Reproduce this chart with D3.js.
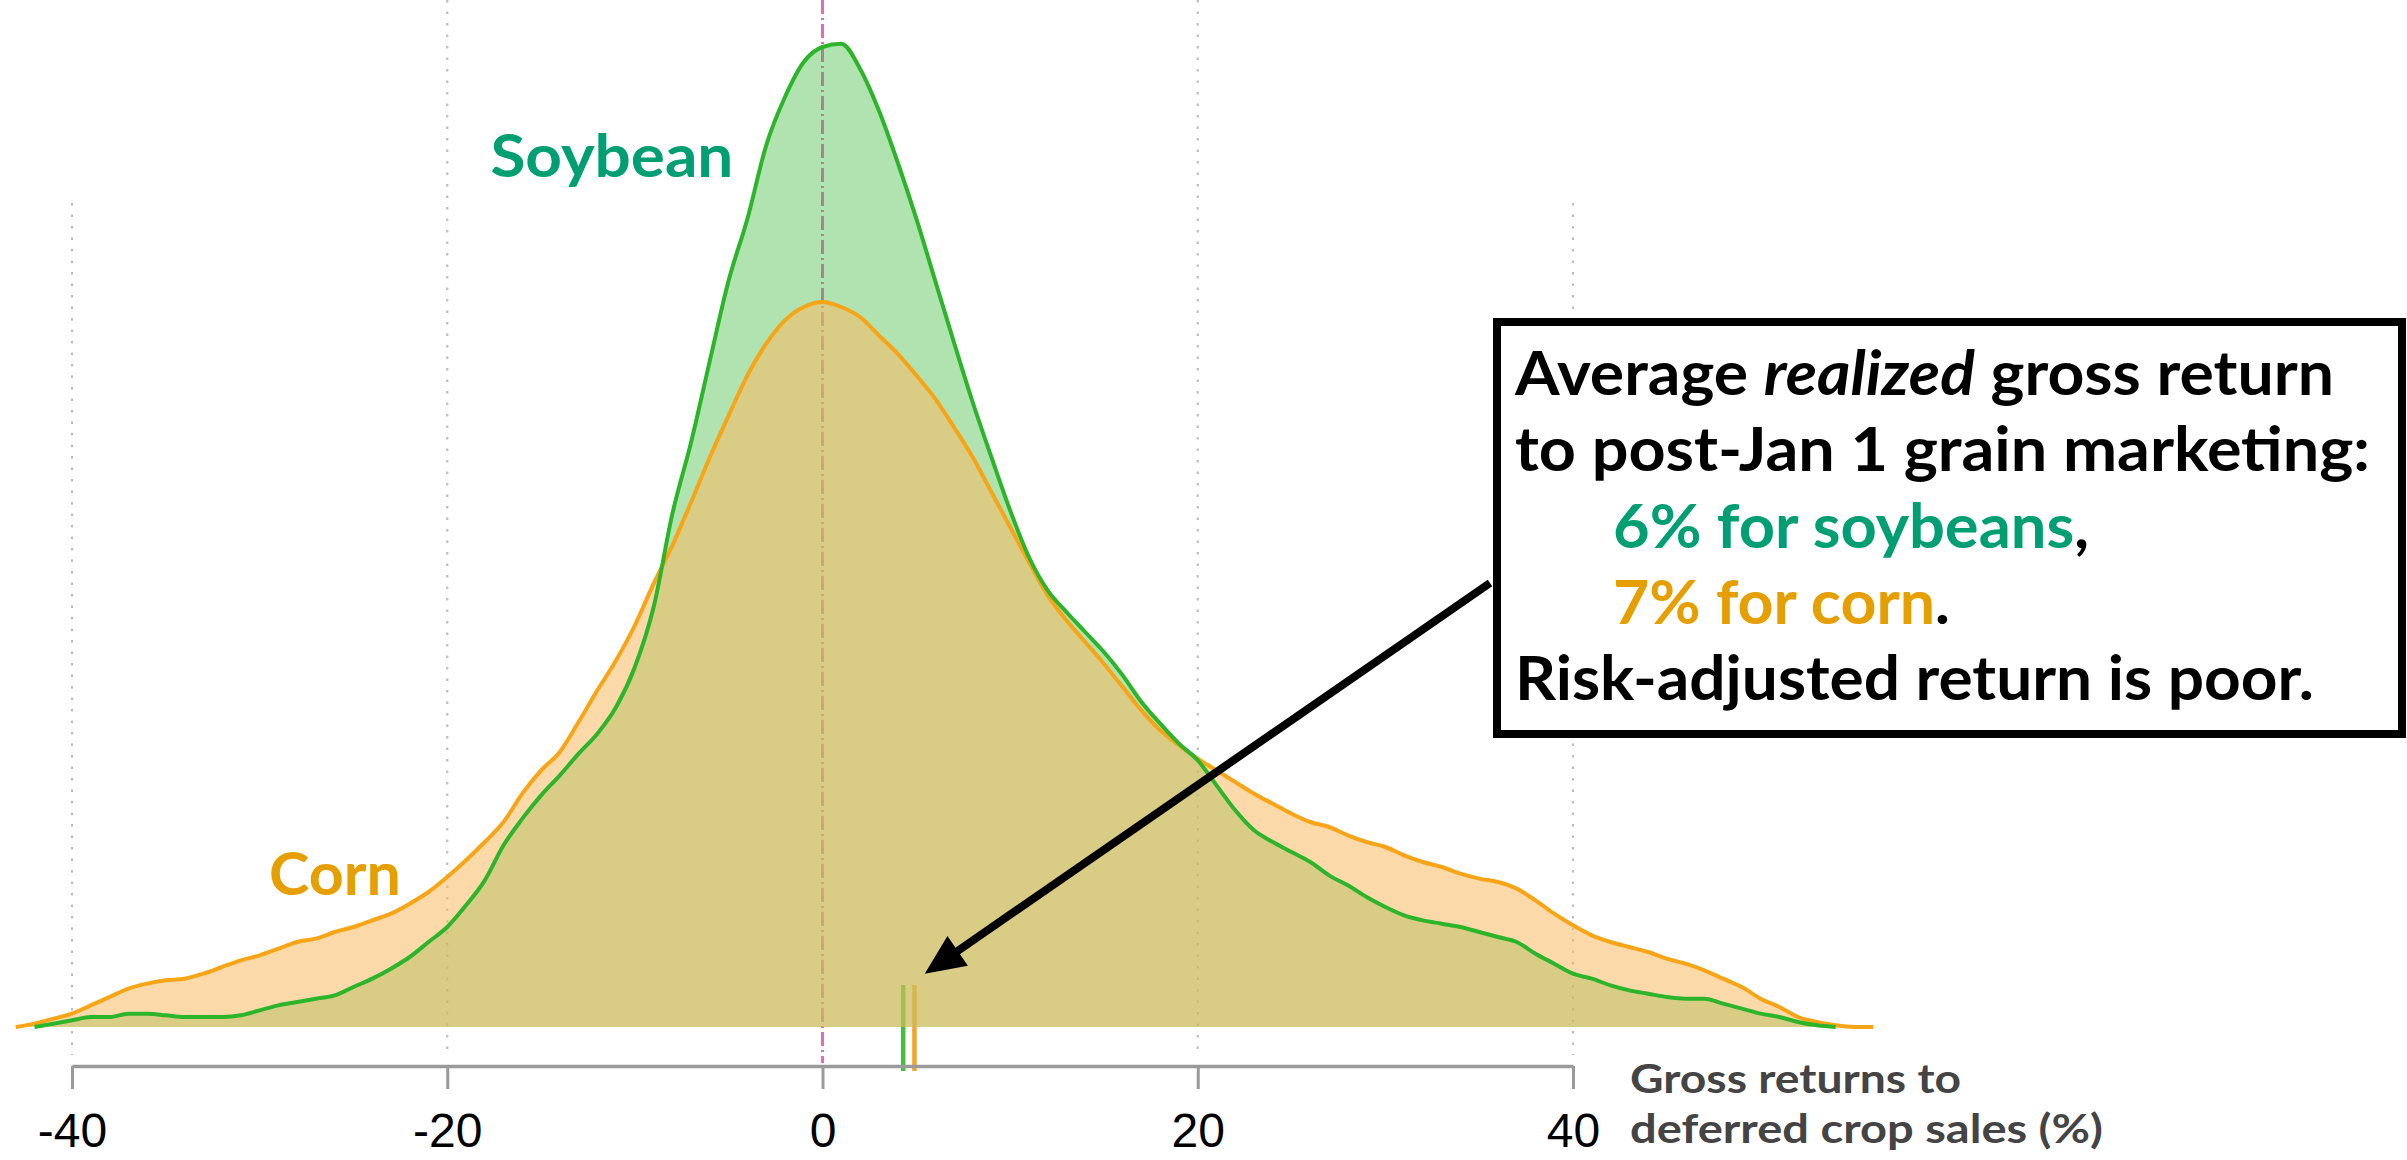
<!DOCTYPE html>
<html><head><meta charset="utf-8">
<script src="https://cdn.jsdelivr.net/npm/d3@7"></script>
<style>body{margin:0;background:#fff}svg{display:block}</style>
</head><body>
<svg id="chart" width="2407" height="1160"></svg>
<script>
// ---------------- data ----------------
const returnPct = [-44,-43,-42,-41,-40,-39,-38,-37,-36,-35,-34,-33,-32,-31,-30,-29,-28,-27,-26,-25,-24,-23,-22,-21,-20,-19,-18,-17,-16,-15,-14,-13,-12,-11,-10,-9,-8,-7,-6,-5,-4,-3,-2,-1,
  0,1,2,3,4,5,6,7,8,9,10,11,12,13,14,15,16,17,18,19,20,21,22,23,24,25,26,27,28,29,30,31,32,33,34,35,36,37,38,39,40,41,42,43,44,45,46,47,48,49,50,51,52,53,54,55,56,57];
const soybeanDensity = [null,null,0.0000,0.0002,0.0004,0.0006,0.0006,0.0008,0.0008,0.0007,0.0006,0.0006,0.0006,0.0007,0.0010,0.0013,0.0015,0.0017,0.0019,0.0024,0.0029,0.0035,0.0042,0.0051,0.0060,0.0073,0.0088,0.0109,0.0125,0.0139,0.0151,0.0164,0.0176,0.0192,0.0216,0.0252,0.0308,0.0351,0.0400,0.0448,0.0485,0.0529,0.0558,0.0579,
  0.0588,0.0590,0.0575,0.0550,0.0519,0.0485,0.0448,0.0411,0.0375,0.0342,0.0310,0.0282,0.0262,0.0249,0.0237,0.0225,0.0211,0.0195,0.0182,0.0170,0.0160,0.0145,0.0130,0.0118,0.0111,0.0105,0.0099,0.0091,0.0085,0.0078,0.0072,0.0067,0.0064,0.0062,0.0060,0.0057,0.0054,0.0051,0.0044,0.0038,0.0032,0.0029,0.0025,0.0022,0.0020,0.0018,0.0017,0.0017,0.0014,0.0011,0.0008,0.0006,0.0003,0.0001,0.0000,null,null,null];
const cornDensity = [null,0.0000,0.0002,0.0005,0.0008,0.0013,0.0018,0.0023,0.0026,0.0028,0.0029,0.0032,0.0036,0.0040,0.0043,0.0047,0.0051,0.0053,0.0057,0.0060,0.0064,0.0068,0.0074,0.0081,0.0090,0.0100,0.0111,0.0123,0.0140,0.0154,0.0165,0.0183,0.0202,0.0220,0.0241,0.0266,0.0289,0.0315,0.0342,0.0367,0.0391,0.0410,0.0424,0.0432,
  0.0435,0.0432,0.0426,0.0415,0.0404,0.0391,0.0377,0.0360,0.0342,0.0321,0.0300,0.0279,0.0259,0.0244,0.0231,0.0218,0.0204,0.0190,0.0178,0.0169,0.0161,0.0154,0.0147,0.0140,0.0134,0.0128,0.0123,0.0120,0.0115,0.0111,0.0108,0.0103,0.0099,0.0096,0.0092,0.0089,0.0087,0.0083,0.0076,0.0068,0.0061,0.0055,0.0051,0.0048,0.0045,0.0041,0.0038,0.0034,0.0029,0.0024,0.0017,0.0012,0.0006,0.0003,0.0001,0.0000,0.0000,null];
const crops = ["Soybean", "Corn"];
const meanReturn = [4.3, 4.9];          // realized mean markers (soybean, corn)
const xTicks = [-40, -20, 0, 20, 40];
const gridValues = [-40, -20, 20, 40];
const axisTitle = ["Gross returns to", "deferred crop sales (%)"];
const noteLines = [
  [{t:"Average ", c:"#000"}, {t:"realized", c:"#000", i:true}, {t:" gross return", c:"#000"}],
  [{t:"to post-Jan 1 grain marketing:", c:"#000"}],
  [{t:"6% for soybeans", c:"#009E73"}, {t:",", c:"#000"}],
  [{t:"7% for corn", c:"#E69F00"}, {t:".", c:"#000"}],
  [{t:"Risk-adjusted return is poor.", c:"#000"}]
];

// ---------------- chart ----------------
const svg = d3.select("#chart");
const x = d3.scaleLinear().domain([-40, 40]).range([72, 1573]);
const y = d3.scaleLinear().domain([0, 0.06]).range([1027, 27]);
const axisY = 1066;

const rows = returnPct.map((v, i) => ({v, s: soybeanDensity[i], c: cornDensity[i]}));

// grid lines
svg.append("g").selectAll("line").data(gridValues).join("line")
  .attr("x1", d => x(d)).attr("x2", d => x(d))
  .attr("y1", d => Math.abs(d) === 40 ? 203 : 0).attr("y2", 1055)
  .attr("stroke", "#bdbdbd").attr("stroke-width", 2.2).attr("stroke-dasharray", "2.5,9");

// zero line
svg.append("line").attr("x1", x(0)).attr("x2", x(0)).attr("y1", 0).attr("y2", axisY - 3)
  .attr("stroke", "#e36ac0").attr("stroke-width", 3).attr("stroke-dasharray", "14,4,2,4");

// mean markers
const markColors = ["#45c03a", "#f0a52a"];
svg.append("g").selectAll("line").data(meanReturn).join("line")
  .attr("x1", d => x(d)).attr("x2", d => x(d))
  .attr("y1", y(0.00252)).attr("y2", axisY + 5)
  .attr("stroke", (d, i) => markColors[i]).attr("stroke-width", 4.5);

// density areas
const curve = d3.curveMonotoneX;
const areaS = d3.area().defined(d => d.s !== null).x(d => x(d.v)).y0(y(0)).y1(d => y(d.s)).curve(curve);
const areaC = d3.area().defined(d => d.c !== null).x(d => x(d.v)).y0(y(0)).y1(d => y(d.c)).curve(curve);
svg.append("path").datum(rows).attr("d", areaS).attr("fill", "rgb(58,185,58)").attr("fill-opacity", 0.4);
svg.append("path").datum(rows).attr("d", areaC).attr("fill", "rgb(250,187,101)").attr("fill-opacity", 0.56);

const lineS = d3.line().defined(d => d.s !== null).x(d => x(d.v)).y(d => y(d.s)).curve(curve);
const lineC = d3.line().defined(d => d.c !== null).x(d => x(d.v)).y(d => y(d.c)).curve(curve);
svg.append("path").datum(rows).attr("d", lineC).attr("fill", "none").attr("stroke", "#f7a516").attr("stroke-width", 4).attr("stroke-linejoin", "round");
svg.append("path").datum(rows).attr("d", lineS).attr("fill", "none").attr("stroke", "#2cb52a").attr("stroke-width", 4).attr("stroke-linejoin", "round");

// x axis
const ax = svg.append("g").attr("transform", `translate(0,${axisY})`)
  .call(d3.axisBottom(x).tickValues(xTicks).tickFormat(d3.format("d")).tickSize(23).tickSizeOuter(0).tickPadding(24));
ax.select(".domain").attr("stroke", "#9a9a9a").attr("stroke-width", 3.5);
ax.selectAll(".tick line").attr("stroke", "#9a9a9a").attr("stroke-width", 3);
ax.selectAll(".tick text").attr("fill", "#000")
  .style("font-family", "'Liberation Sans', Arial, sans-serif").style("font-size", "48px")
  .text(d => d < 0 ? "-" + Math.abs(d) : d);

// axis title (two lines)
const atWidths = [331, 473];
const atY = [1093, 1143];
axisTitle.forEach((t, i) => {
  svg.append("text").attr("x", 1630).attr("y", atY[i]).text(t).attr("fill", "#444")
    .style("font-family", "Lato, 'Open Sans', sans-serif").style("font-weight", 700).style("font-size", "40px")
    .attr("textLength", atWidths[i]).attr("lengthAdjust", "spacingAndGlyphs");
});

// crop labels
const labelColors = ["#009E73", "#E69F00"];
const labelPos = [{v: -17.7, d: 0.0510, w: 243}, {v: -29.5, d: 0.0079, w: 132}];
crops.forEach((c, i) => {
  svg.append("text").attr("x", x(labelPos[i].v)).attr("y", y(labelPos[i].d)).text(c)
    .attr("fill", labelColors[i]).style("font-family", "Lato, 'Open Sans', sans-serif")
    .style("font-weight", 700).style("font-size", "59px")
    .attr("textLength", labelPos[i].w).attr("lengthAdjust", "spacingAndGlyphs");
});

// annotation arrow (data coords)
const tip = [x(5.45), y(0.0032)], start = [1490, 583];
const dx = start[0] - tip[0], dy = start[1] - tip[1], L = Math.hypot(dx, dy);
const ux = dx / L, uy = dy / L, headLen = 40, headHalf = 18;
const base = [tip[0] + ux * headLen, tip[1] + uy * headLen];
svg.append("line").attr("x1", start[0]).attr("y1", start[1]).attr("x2", base[0] + ux * -4).attr("y2", base[1] + uy * -4)
  .attr("stroke", "#000").attr("stroke-width", 8);
svg.append("path").attr("d", d3.line()([tip, [base[0] - uy * headHalf, base[1] + ux * headHalf], [base[0] + uy * headHalf, base[1] - ux * headHalf]]) + "Z")
  .attr("fill", "#000");

// annotation box
svg.append("rect").attr("x", 1497).attr("y", 322).attr("width", 905).attr("height", 412)
  .attr("fill", "#fff").attr("stroke", "#000").attr("stroke-width", 8);
const noteX = [1515, 1515, 1613, 1613, 1515];
const noteW = [819, 855, 476, 337, 799];
noteLines.forEach((parts, i) => {
  const t = svg.append("text").attr("x", noteX[i]).attr("y", 395 + i * 76.3)
    .style("font-family", "Lato, 'Open Sans', sans-serif").style("font-weight", 700).style("font-size", "61px")
    .attr("textLength", noteW[i]).attr("lengthAdjust", "spacingAndGlyphs");
  parts.forEach(p => {
    t.append("tspan").text(p.t).attr("fill", p.c).style("font-style", p.i ? "italic" : "normal");
  });
});
</script>
</body></html>
